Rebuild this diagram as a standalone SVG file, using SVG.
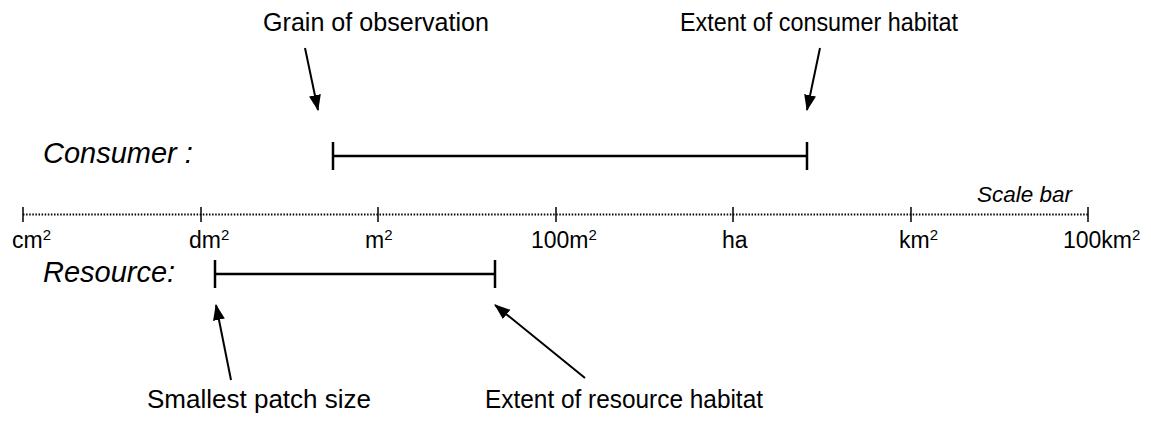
<svg xmlns="http://www.w3.org/2000/svg" width="1151" height="422" viewBox="0 0 1151 422">
<style>
text{font-family:"Liberation Sans",Arial,sans-serif;fill:#000}
.lab{font-size:25px}
.row{font-size:29px;font-style:italic}
.sc{font-size:23px}
.sup{font-size:15px}
.bar{stroke:#000;stroke-width:2.5;fill:none}
.tick{stroke:#000;stroke-width:1.5}
.dot{stroke:#000;stroke-width:1.8;stroke-dasharray:1.5 1.6}
.arr{stroke:#000;stroke-width:2;fill:none;marker-end:url(#ah)}
</style>
<defs>
<marker id="ah" markerUnits="userSpaceOnUse" markerWidth="16" markerHeight="16" viewBox="0 0 16 16" refX="15" refY="8" orient="auto">
<path d="M0,2 L16,8 L0,14 Z" fill="#000"/>
</marker>
</defs>
<g id="scale-bar">
<line class="dot" x1="23" y1="214.5" x2="1088" y2="214.5"/>
<line class="tick" x1="23" y1="207" x2="23" y2="222"/>
<line class="tick" x1="201" y1="207" x2="201" y2="222"/>
<line class="tick" x1="378" y1="207" x2="378" y2="222"/>
<line class="tick" x1="556" y1="207" x2="556" y2="222"/>
<line class="tick" x1="733" y1="207" x2="733" y2="222"/>
<line class="tick" x1="911" y1="207" x2="911" y2="222"/>
<line class="tick" x1="1088" y1="207" x2="1088" y2="222"/>
<text x="977" y="202" style="font-size:22.5px;font-style:italic">Scale bar</text>
<text class="sc" x="12" y="248">cm<tspan class="sup" dy="-8">2</tspan></text>
<text class="sc" x="189" y="248">dm<tspan class="sup" dy="-8">2</tspan></text>
<text class="sc" x="365" y="248">m<tspan class="sup" dy="-8">2</tspan></text>
<text class="sc" x="531" y="248">100m<tspan class="sup" dy="-8">2</tspan></text>
<text class="sc" x="722" y="248">ha</text>
<text class="sc" x="899" y="248">km<tspan class="sup" dy="-8">2</tspan></text>
<text class="sc" x="1063" y="248">100km<tspan class="sup" dy="-8">2</tspan></text>
</g>
<g id="consumer">
<text class="row" x="43" y="163">Consumer :</text>
<line class="bar" x1="333" y1="156" x2="807" y2="156"/>
<line class="bar" x1="333" y1="142" x2="333" y2="170"/>
<line class="bar" x1="807" y1="142" x2="807" y2="170"/>
</g>
<g id="resource">
<text class="row" x="43" y="282">Resource:</text>
<line class="bar" x1="215" y1="274" x2="495" y2="274"/>
<line class="bar" x1="215" y1="260" x2="215" y2="288"/>
<line class="bar" x1="495" y1="260" x2="495" y2="288"/>
</g>
<g id="grain"><text class="lab" x="263" y="31" textLength="226" lengthAdjust="spacingAndGlyphs">Grain of observation</text></g>
<g id="extent-consumer"><text class="lab" x="680" y="31" textLength="278" lengthAdjust="spacingAndGlyphs">Extent of consumer habitat</text></g>
<g id="smallest-patch"><text class="lab" x="147" y="408" textLength="224" lengthAdjust="spacingAndGlyphs">Smallest patch size</text></g>
<g id="extent-resource"><text class="lab" x="485" y="408" textLength="278" lengthAdjust="spacingAndGlyphs">Extent of resource habitat</text></g>
<g id="connectors">
<line class="arr" x1="305" y1="48" x2="318" y2="110"/>
<line class="arr" x1="820" y1="48" x2="807" y2="110"/>
<line class="arr" x1="231" y1="380" x2="216" y2="305"/>
<line class="arr" x1="585" y1="378" x2="495" y2="305"/>
</g>
</svg>
